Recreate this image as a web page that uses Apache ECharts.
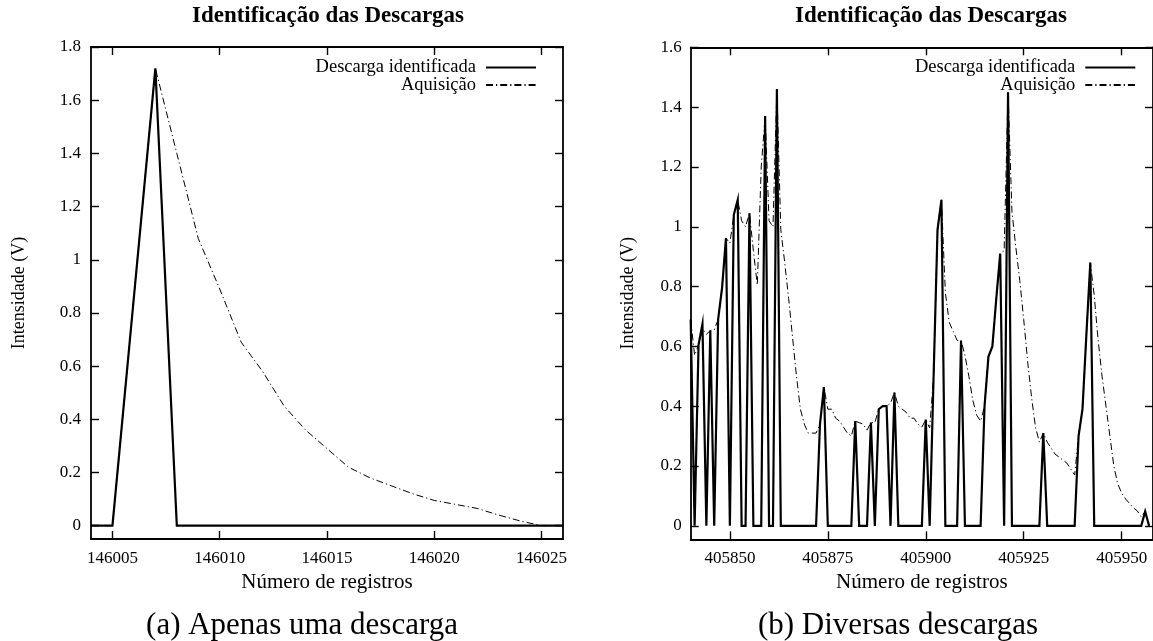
<!DOCTYPE html>
<html>
<head>
<meta charset="utf-8">
<script src="https://cdn.jsdelivr.net/npm/echarts@6/dist/echarts.min.js"></script>
<style>
html,body{margin:0;padding:0;background:#fff;}
#chart{width:1153px;height:641px;}
</style>
</head>
<body>
<div id="chart"></div>
<script>
// ---------- Data ----------
const titleText = 'Identificação das Descargas';
const xName = 'Número de registros';
const yName = 'Intensidade (V)';
const seriesNames = ['Descarga identificada', 'Aquisição'];
const captionA = '(a) Apenas uma descarga';
const captionB = '(b) Diversas descargas';

// Panel (a)
const recordsA = [146004,146005,146006,146007,146008,146009,146010,146011,146012,146013,146014,146015,146016,146017,146018,146019,146020,146021,146022,146023,146024,146025,146026];
const descA = [0,0,0.86,1.72,0,0,0,0,0,0,0,0,0,0,0,0,0,0,0,0,0,0,0];
const aqA = [0,0,0.86,1.72,1.40,1.08,0.89,0.69,0.58,0.45,0.36,0.29,0.22,0.18,0.15,0.12,0.095,0.08,0.065,0.04,0.018,0,0];
const xTicksA = [146005,146010,146015,146020,146025];
const yTicksA = [0,0.2,0.4,0.6,0.8,1,1.2,1.4,1.6,1.8];

// Panel (b)
const recordsB = [
405840,405841,405842,405843,405844,405845,405846,405847,405848,405849,
405850,405851,405852,405853,405854,405855,405856,405857,405858,405859,
405860,405861,405862,405863,405864,405865,405866,405867,405868,405869,
405870,405871,405872,405873,405874,405875,405876,405877,405878,405879,
405880,405881,405882,405883,405884,405885,405886,405887,405888,405889,
405890,405891,405892,405893,405894,405895,405896,405897,405898,405899,
405900,405901,405902,405903,405904,405905,405906,405907,405908,405909,
405910,405911,405912,405913,405914,405915,405916,405917,405918,405919,
405920,405921,405922,405923,405924,405925,405926,405927,405928,405929,
405930,405931,405932,405933,405934,405935,405936,405937,405938,405939,
405940,405941,405942,405943,405944,405945,405946,405947,405948,405949,
405950,405951,405952,405953,405954,405955,405956,405957];
const descB = [
0.69,0,0.605,0.675,0,0.653,0,0.69,0.795,0.962,
0,1.04,1.09,0,0,1.045,0,0,0,1.37,
0,0,1.46,0,0,0,0,0,0,0,
0,0,0,0.34,0.464,0,0,0,0,0,
0,0,0.35,0,0,0,0.345,0,0.39,0.40,
0.40,0,0.446,0,0,0,0,0,0,0,
0.355,0,0.5,0.99,1.09,0,0,0,0,0.62,
0,0,0,0,0,0.40,0.566,0.60,0.76,0.91,
0,1.45,0,0,0,0,0,0,0,0,
0.31,0,0,0,0,0,0,0,0,0.30,
0.39,0.64,0.88,0,0,0,0,0,0,0,
0,0,0,0,0,0,0.048,0];
const aqB = [
0.69,0.57,0.605,0.66,0.64,0.653,0.655,0.69,0.795,0.962,
0.945,1.04,1.09,1.02,1.0,1.045,0.92,0.805,1.2,1.37,
1.02,1.0,1.46,0.99,0.88,0.76,0.63,0.50,0.39,0.34,
0.31,0.31,0.31,0.34,0.464,0.39,0.39,0.36,0.35,0.33,
0.31,0.30,0.35,0.345,0.34,0.32,0.345,0.345,0.39,0.40,
0.40,0.41,0.446,0.40,0.39,0.38,0.36,0.36,0.34,0.33,
0.355,0.327,0.5,0.99,1.09,0.78,0.68,0.65,0.62,0.62,
0.57,0.50,0.42,0.37,0.35,0.40,0.566,0.60,0.76,0.91,
0.92,1.45,1.05,0.93,0.82,0.69,0.55,0.43,0.33,0.28,
0.31,0.28,0.26,0.24,0.23,0.22,0.21,0.19,0.17,0.30,
0.39,0.64,0.88,0.77,0.62,0.50,0.40,0.30,0.20,0.14,
0.11,0.09,0.075,0.06,0.05,0.03,0.048,0];
const xTicksB = [405850,405875,405900,405925,405950];
const yTicksB = [0,0.2,0.4,0.6,0.8,1,1.2,1.4,1.6];

// ---------- Helpers ----------
const FAM = '"Liberation Serif", "Times New Roman", serif';
const pairs = (xs, ys) => xs.map((x, i) => [x, ys[i]]);
const lineW = 1.8;
const tickStyle = {color: '#000', width: 1.4};

function mainX(grid, min, max, ticks) {
  return {
    type: 'value', gridIndex: grid, min: min, max: max, position: 'bottom',
    axisLine: {show: true, onZero: false, lineStyle: {color: '#000', width: lineW}},
    axisTick: {show: true, inside: true, length: 8, customValues: ticks, lineStyle: tickStyle},
    axisLabel: {show: true, customValues: ticks, margin: 11, color: '#000', fontFamily: FAM, fontSize: 17,
                formatter: v => String(v)},
    splitLine: {show: false},
    name: xName, nameLocation: 'middle', nameGap: 33,
    nameTextStyle: {color: '#000', fontFamily: FAM, fontSize: 21}
  };
}
function mirrorX(grid, min, max, ticks) {
  return {
    type: 'value', gridIndex: grid, min: min, max: max, position: 'top',
    axisLine: {show: true, onZero: false, lineStyle: {color: '#000', width: lineW}},
    axisTick: {show: true, inside: true, length: 8, customValues: ticks, lineStyle: tickStyle},
    axisLabel: {show: false}, splitLine: {show: false}
  };
}
function mainY(grid, min, max, ticks, gap, margin) {
  return {
    type: 'value', gridIndex: grid, min: min, max: max, position: 'left',
    axisLine: {show: true, onZero: false, lineStyle: {color: '#000', width: lineW}},
    axisTick: {show: true, inside: true, length: 8, customValues: ticks, lineStyle: tickStyle},
    axisLabel: {show: true, customValues: ticks, margin: margin, color: '#000', fontFamily: FAM, fontSize: 17},
    splitLine: {show: false},
    name: yName, nameLocation: 'middle', nameGap: gap, nameRotate: 90,
    nameTextStyle: {color: '#000', fontFamily: FAM, fontSize: 18}
  };
}
function mirrorY(grid, min, max, ticks) {
  return {
    type: 'value', gridIndex: grid, min: min, max: max, position: 'right',
    axisLine: {show: true, onZero: false, lineStyle: {color: '#000', width: lineW}},
    axisTick: {show: true, inside: true, length: 8, customValues: ticks, lineStyle: tickStyle},
    axisLabel: {show: false}, splitLine: {show: false}
  };
}
function solidSeries(xi, yi, data) {
  return {name: seriesNames[0], type: 'line', xAxisIndex: xi, yAxisIndex: yi, data: data,
          symbol: 'none', showSymbol: false, z: 3, animation: false,
          lineStyle: {color: '#000', width: 2.2, type: 'solid', join: 'miter'},
          itemStyle: {color: '#000'}};
}
function dashSeries(xi, yi, data) {
  return {name: seriesNames[1], type: 'line', xAxisIndex: xi, yAxisIndex: yi, data: data,
          symbol: 'none', showSymbol: false, z: 4, animation: false,
          lineStyle: {color: '#000', width: 1, type: [7, 3, 1.2, 3]},
          itemStyle: {color: '#000'}};
}
function legend(right, top) {
  return {
    data: seriesNames, orient: 'vertical', align: 'right', right: right, top: top,
    itemWidth: 50, itemHeight: 10, itemGap: -1.5, selectedMode: false,
    itemStyle: {opacity: 0, borderWidth: 0},
    textStyle: {color: '#000', fontFamily: FAM, fontSize: 18.5, lineHeight: 17.6, padding: [0, 5, 0, 0]}
  };
}
function txt(x, y, text, font) {
  return {type: 'text', x: x, y: y, silent: true,
          style: {text: text, align: 'center', verticalAlign: 'middle', font: font, fill: '#000'}};
}

const xMinA = 146004, xMaxA = 146026;
const xMinB = 405840, xMaxB = 405958;

const option = {
  animation: false,
  backgroundColor: '#fff',
  grid: [
    {left: 91, top: 47, width: 472, height: 492, containLabel: false},
    {left: 690.7, top: 47.3, width: 463.5, height: 492, containLabel: false}
  ],
  xAxis: [
    mainX(0, xMinA, xMaxA, xTicksA), mirrorX(0, xMinA, xMaxA, xTicksA),
    mainX(1, xMinB, xMaxB, xTicksB), mirrorX(1, xMinB, xMaxB, xTicksB)
  ],
  yAxis: [
    mainY(0, -0.05, 1.8, yTicksA, 63, 10), mirrorY(0, -0.05, 1.8, yTicksA),
    mainY(1, -0.045, 1.6, yTicksB, 53, 9), mirrorY(1, -0.045, 1.6, yTicksB)
  ],
  legend: [legend(611, 53), legend(11.7, 53)],
  series: [
    solidSeries(0, 0, pairs(recordsA, descA)),
    dashSeries(0, 0, pairs(recordsA, aqA)),
    solidSeries(2, 2, pairs(recordsB, descB)),
    dashSeries(2, 2, pairs(recordsB, aqB))
  ],
  graphic: [
    txt(328, 16, titleText, 'bold 23px ' + FAM),
    txt(931, 16, titleText, 'bold 23px ' + FAM),
    txt(302, 626, captionA, '31px ' + FAM),
    txt(898, 626, captionB, '31px ' + FAM)
  ]
};

const chart = echarts.init(document.getElementById('chart'), null, {renderer: 'canvas'});
chart.setOption(option);
</script>
</body>
</html>
